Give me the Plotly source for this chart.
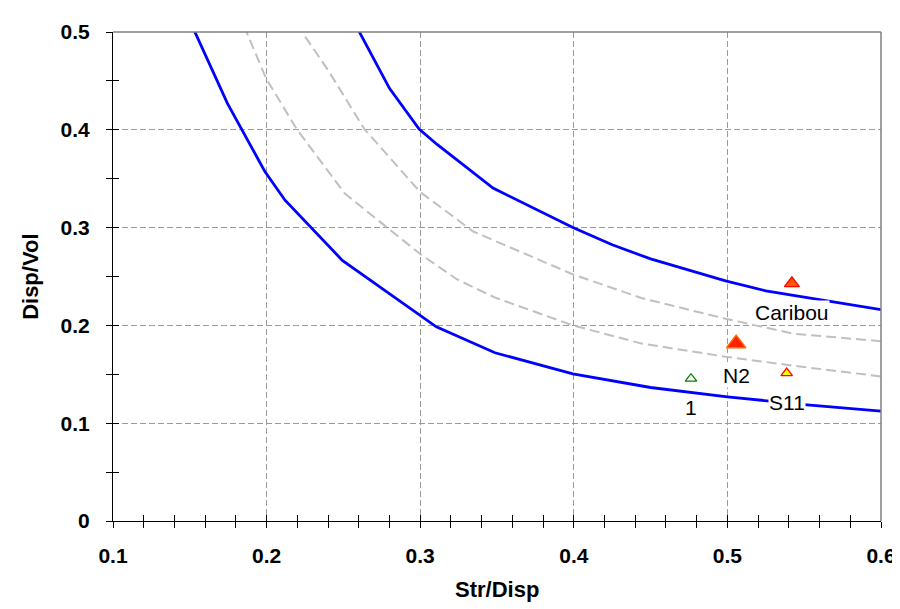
import plotly.graph_objects as go

# Lower boundary (blue)
low_x = [0.151, 0.1745, 0.199, 0.212, 0.2493, 0.3105, 0.3487, 0.3994, 0.45, 0.5, 0.55, 0.6]
low_y = [0.508, 0.427, 0.357, 0.328, 0.2665, 0.1985, 0.172, 0.1505, 0.1365, 0.127, 0.119, 0.1124]

# Upper boundary (blue)
up_x = [0.2577, 0.28, 0.2993, 0.311, 0.3474, 0.3994, 0.425, 0.45, 0.4988, 0.525, 0.6]
up_y = [0.508, 0.4424, 0.4007, 0.385, 0.3404, 0.300, 0.2825, 0.268, 0.2455, 0.2354, 0.2162]

# Inner dashed gray curves
g1_x = [0.1853, 0.1997, 0.2196, 0.2508, 0.2785, 0.3, 0.3238, 0.3485, 0.3994, 0.444, 0.4988, 0.547, 0.6]
g1_y = [0.506, 0.4525, 0.4007, 0.335, 0.300, 0.273, 0.2472, 0.2286, 0.200, 0.1815, 0.168, 0.158, 0.1478]
g2_x = [0.2196, 0.24, 0.2637, 0.3, 0.3345, 0.3994, 0.444, 0.4988, 0.5428, 0.6]
g2_y = [0.508, 0.461, 0.4007, 0.3364, 0.296, 0.2522, 0.228, 0.2068, 0.1916, 0.1838]

# Sites
site_names = ["Caribou", "N2", "S11", "1"]
site_x = [0.542, 0.5057, 0.5386, 0.4763]
site_y = [0.2429, 0.1815, 0.1512, 0.1455]
label_x = [0.542, 0.506, 0.5386, 0.476]
label_y = [0.2134, 0.1485, 0.1215, 0.1159]
site_fill = ["#FF5A00", "#FF2000", "#FFFF00", "#FFFFFF"]
site_line = ["#FF0000", "#FF7000", "#FF0000", "#008000"]
site_size = [13, 17, 10, 10]

x_ticks = [0.1, 0.2, 0.3, 0.4, 0.5, 0.6]
y_ticks = [0, 0.1, 0.2, 0.3, 0.4, 0.5]
y_ticktext = ["0", "0.1", "0.2", "0.3", "0.4", "0.5"]

FONT = "Liberation Sans, Arial, sans-serif"

fig = go.Figure()
for xs, ys in [(g1_x, g1_y), (g2_x, g2_y)]:
    fig.add_trace(go.Scatter(x=xs, y=ys, mode="lines",
                             line=dict(color="#C0C0C0", width=2, dash="10px,5px"),
                             showlegend=False, hoverinfo="skip"))
for xs, ys in [(low_x, low_y), (up_x, up_y)]:
    fig.add_trace(go.Scatter(x=xs, y=ys, mode="lines",
                             line=dict(color="#0000FF", width=2.8),
                             showlegend=False, hoverinfo="skip"))
for i in range(len(site_names)):
    fig.add_trace(go.Scatter(x=[site_x[i]], y=[site_y[i]], mode="markers",
                             marker=dict(symbol="triangle-up", size=site_size[i],
                                         color=site_fill[i],
                                         line=dict(color=site_line[i], width=1.3)),
                             showlegend=False, name=site_names[i]))
    fig.add_annotation(x=label_x[i], y=label_y[i], text=site_names[i], showarrow=False,
                       font=dict(family=FONT, size=21, color="black"),
                       bgcolor="white", borderpad=0)

# axis titles
fig.add_annotation(xref="paper", yref="paper", x=0.5, y=-0.14, text="<b>Str/Disp</b>",
                   showarrow=False, xanchor="center", yanchor="middle",
                   font=dict(family=FONT, size=22, color="black"))
fig.add_annotation(xref="paper", yref="paper", x=-0.1076, y=0.5, text="<b>Disp/Vol</b>",
                   showarrow=False, xanchor="center", yanchor="middle", textangle=-90,
                   font=dict(family=FONT, size=22, color="black"))

# invisible trace for overlay axes (inside tick halves)
fig.add_trace(go.Scatter(x=[0.1], y=[0], xaxis="x2", yaxis="y2", mode="markers",
                         marker=dict(opacity=0), showlegend=False, hoverinfo="skip"))

tickfont = dict(family=FONT, size=21, color="black", weight="bold")
fig.update_layout(
    width=900, height=609,
    margin=dict(l=105, r=23, t=18, b=96),
    paper_bgcolor="white", plot_bgcolor="white",
    font=dict(family=FONT),
    xaxis=dict(range=[0.1, 0.6], tickvals=x_ticks, tickformat=".1f",
               showline=True, linecolor="black", linewidth=1.2,
               ticks="outside", ticklen=6, tickcolor="black", ticklabelstandoff=10,
               minor=dict(dtick=0.02, ticks="outside", ticklen=6, tickcolor="black", showgrid=False),
               showgrid=True, gridcolor="#9A9A9A", griddash="6px,3px", gridwidth=1,
               zeroline=False, tickfont=tickfont),
    yaxis=dict(range=[0, 0.5], tickvals=y_ticks, ticktext=y_ticktext,
               showline=True, linecolor="black", linewidth=1.2,
               ticks="outside", ticklen=6, tickcolor="black", ticklabelstandoff=12,
               minor=dict(dtick=0.05, ticks="outside", ticklen=6, tickcolor="black", showgrid=False),
               showgrid=True, gridcolor="#9A9A9A", griddash="6px,3px", gridwidth=1,
               zeroline=False, tickfont=tickfont),
    xaxis2=dict(range=[0.1, 0.6], overlaying="x", tickvals=x_ticks, showticklabels=False,
                ticks="inside", ticklen=6, tickcolor="black", showgrid=False, zeroline=False,
                minor=dict(dtick=0.02, ticks="inside", ticklen=6, tickcolor="black"),
                anchor="y2"),
    yaxis2=dict(range=[0, 0.5], overlaying="y", tickvals=y_ticks, showticklabels=False,
                ticks="inside", ticklen=6, tickcolor="black", showgrid=False, zeroline=False,
                minor=dict(dtick=0.05, ticks="inside", ticklen=6, tickcolor="black"),
                anchor="x2"),
    shapes=[
        dict(type="line", xref="paper", yref="paper", x0=0, x1=1, y0=1, y1=1,
             line=dict(color="#808080", width=1.5)),
        dict(type="line", xref="paper", yref="paper", x0=1, x1=1, y0=0, y1=1,
             line=dict(color="#808080", width=1.5)),
    ],
)

fig.write_html("out.html")
